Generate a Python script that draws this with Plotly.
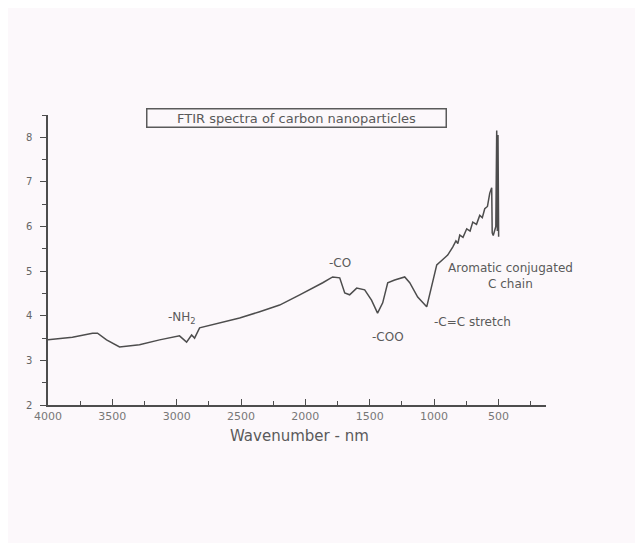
import plotly.graph_objects as go

# Wavenumber (cm-1 as drawn, labelled "nm") and transmittance-like values
wavenumber = [4000, 3810, 3654, 3615, 3545, 3444, 3289, 3133, 2978, 2923, 2884, 2861, 2822,
              2667, 2511, 2355, 2200, 2044, 1967, 1865, 1788, 1733, 1694, 1656, 1601, 1539,
              1486, 1439, 1399, 1360, 1306, 1228, 1189, 1127, 1057, 1017, 979, 917, 894, 855,
              830, 815, 800, 775, 746, 720, 699, 670, 645, 625, 606, 585, 567, 552, 548, 540,
              520, 513, 508, 503, 498]
signal = [3.46, 3.52, 3.61, 3.61, 3.46, 3.30, 3.35, 3.46, 3.55, 3.41, 3.57, 3.50, 3.73,
          3.84, 3.95, 4.09, 4.24, 4.47, 4.58, 4.74, 4.87, 4.85, 4.51, 4.47, 4.62, 4.58,
          4.35, 4.06, 4.29, 4.74, 4.80, 4.87, 4.74, 4.42, 4.20, 4.65, 5.14, 5.30, 5.36, 5.54,
          5.68, 5.62, 5.81, 5.76, 5.95, 5.90, 6.10, 6.05, 6.25, 6.20, 6.40, 6.45, 6.75, 6.87, 5.86, 5.80,
          6.00, 8.15, 5.90, 8.05, 5.77]

x_ticks = [4000, 3500, 3000, 2500, 2000, 1500, 1000, 500]
x_tick_labels = ["4000", "3500", "3000", "2500", "2000", "1500", "1000", "500"]
y_ticks = [2, 3, 4, 5, 6, 7, 8]
y_tick_labels = ["2", "3", "4", "5", "6", "7", "8"]

labels = ["-NH<sub>2</sub>", "-CO", "-COO", "-C=C stretch", "Aromatic conjugated<br>C chain"]
label_x = [2960, 1733, 1360, 700, 405]
label_y = [3.95, 5.18, 3.52, 3.86, 4.9]

ink = "#4d4d4d"
text_ink = "#5a5a5a"
font_family = "DejaVu Sans"

fig = go.Figure()
fig.add_trace(go.Scatter(x=wavenumber, y=signal, mode="lines",
                         line=dict(color=ink, width=1.5), showlegend=False,
                         hoverinfo="skip"))

for t, xv, yv in zip(labels, label_x, label_y):
    fig.add_annotation(x=xv, y=yv, xref="x", yref="y", text=t, showarrow=False,
                       font=dict(family=font_family, size=12, color=text_ink),
                       align="center", xanchor="center", yanchor="middle")

fig.add_annotation(x=0.498, y=0.988, xref="paper", yref="paper",
                   text="FTIR spectra of carbon nanoparticles", showarrow=False,
                   font=dict(family=font_family, size=13, color=text_ink),
                   bordercolor="#5a5a5a", borderwidth=1.5, borderpad=1,
                   width=296, align="center", xanchor="center", yanchor="middle")

fig.add_annotation(x=2044, y=-0.107, xref="x", yref="paper",
                   text="Wavenumber - nm", showarrow=False,
                   font=dict(family=font_family, size=15, color=text_ink),
                   xanchor="center", yanchor="middle")

fig.update_layout(
    width=643, height=543,
    margin=dict(l=40, r=105, t=107, b=146),
    paper_bgcolor="#fcf8fb", plot_bgcolor="#fcf8fb",
    font=dict(family=font_family, color="#666666"),
    xaxis=dict(range=[4000, 130], tickmode="array", tickvals=x_ticks,
               ticktext=x_tick_labels, ticks="inside", ticklen=6, tickcolor=ink,
               showline=True, linecolor=ink, linewidth=1.5, showgrid=False,
               zeroline=False, tickfont=dict(size=11, color="#777777"),
               minor=dict(ticks="inside", ticklen=4, dtick=250, tickcolor=ink, showgrid=False),
               ticklabelstandoff=0),
    yaxis=dict(range=[2, 8.5], tickmode="array", tickvals=y_ticks,
               ticktext=y_tick_labels, ticks="outside", ticklen=6, tickcolor=ink,
               showline=True, linecolor=ink, linewidth=1.5, showgrid=False,
               zeroline=False, tickfont=dict(size=10, color="#666666"),
               minor=dict(ticks="outside", ticklen=4, dtick=0.5, tickcolor=ink, showgrid=False),
               ticklabelstandoff=6),
)

fig.write_html("out.html")
